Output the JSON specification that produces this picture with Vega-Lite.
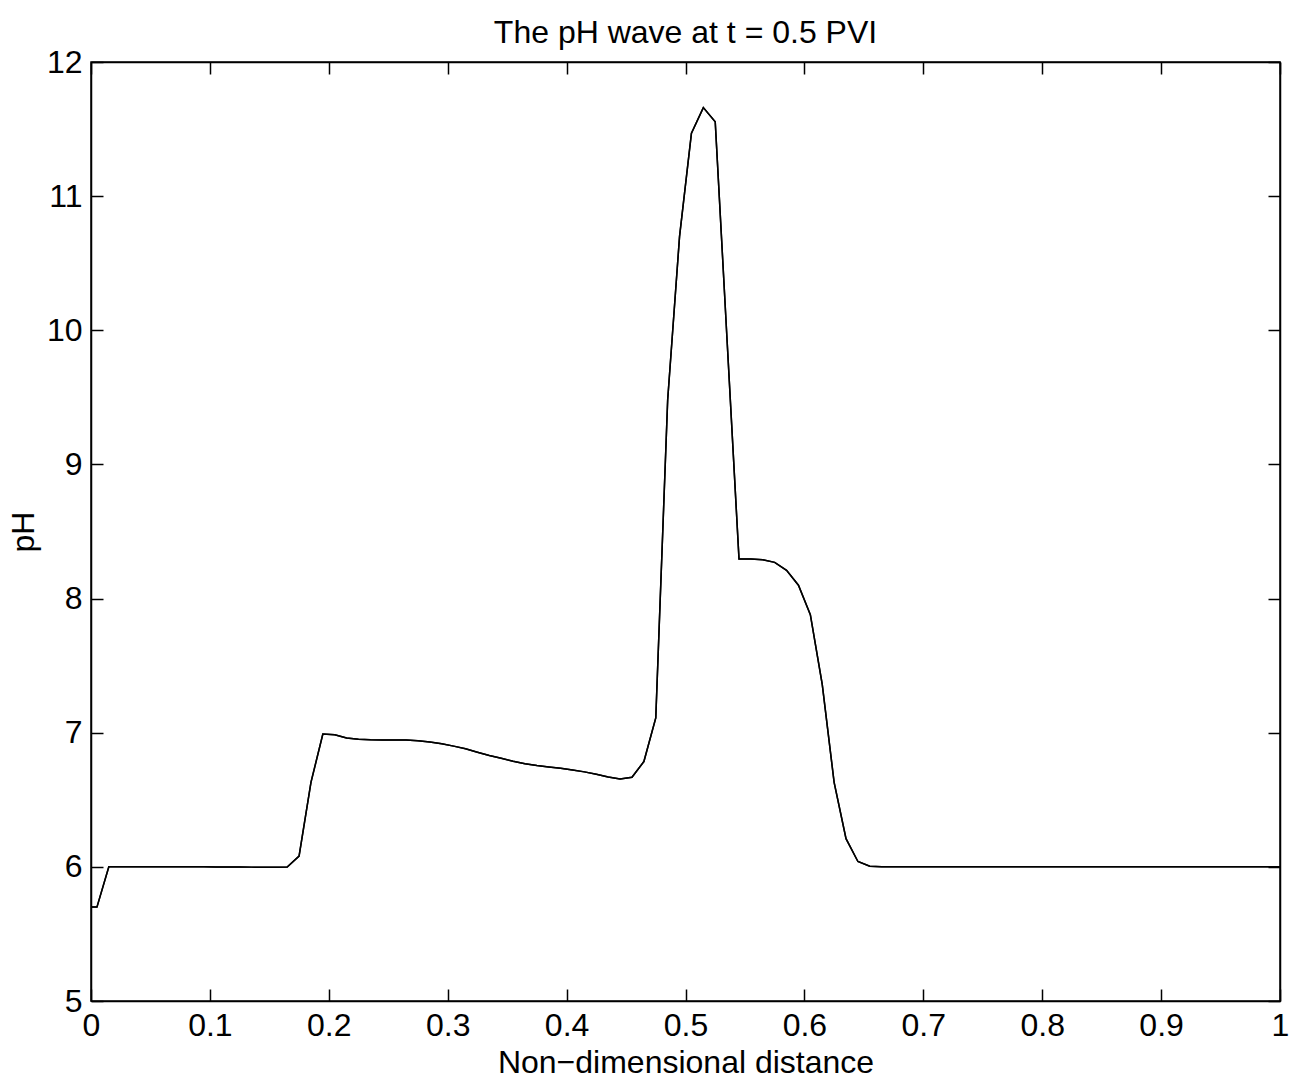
{
  "$schema": "https://vega.github.io/schema/vega-lite/v6.json",
  "width": 1189,
  "height": 939,
  "autosize": {"type": "none"},
  "padding": {"left": 91, "top": 62, "right": 13, "bottom": 85},
  "background": "white",
  "title": {"text": "The pH wave at t = 0.5 PVI", "font": "Liberation Sans", "fontSize": 32, "fontWeight": "normal", "color": "black", "offset": -4},
  "config": {
    "view": {"stroke": "black", "strokeWidth": 1.5},
    "axis": {"grid": false, "domainColor": "black", "domainWidth": 1.5, "tickColor": "black", "tickWidth": 1.5, "tickSize": -12, "labelFont": "Liberation Sans", "labelFontSize": 32, "labelColor": "black", "titleFont": "Liberation Sans", "titleFontSize": 32, "titleFontWeight": "normal", "titleColor": "black", "labelOverlap": false}
  },
  "data": {"values": [
    {"x": 0, "pH": 5.70}, {"x": 0.005, "pH": 5.70}, {"x": 0.015, "pH": 6.0}, {"x": 0.025, "pH": 6.0}, {"x": 0.035, "pH": 6.0}, {"x": 0.045, "pH": 6.0}, {"x": 0.055, "pH": 6.0}, {"x": 0.065, "pH": 6.0}, {"x": 0.075, "pH": 6.0}, {"x": 0.085, "pH": 6.0}, {"x": 0.095, "pH": 6.0}, {"x": 0.105, "pH": 5.999}, {"x": 0.115, "pH": 5.999}, {"x": 0.125, "pH": 5.999}, {"x": 0.135, "pH": 5.998}, {"x": 0.145, "pH": 5.997}, {"x": 0.155, "pH": 5.997}, {"x": 0.165, "pH": 5.999},
    {"x": 0.175, "pH": 6.08}, {"x": 0.185, "pH": 6.63}, {"x": 0.195, "pH": 6.99}, {"x": 0.205, "pH": 6.985}, {"x": 0.215, "pH": 6.96}, {"x": 0.225, "pH": 6.952}, {"x": 0.235, "pH": 6.948}, {"x": 0.245, "pH": 6.946}, {"x": 0.255, "pH": 6.946}, {"x": 0.265, "pH": 6.945}, {"x": 0.275, "pH": 6.94}, {"x": 0.285, "pH": 6.93}, {"x": 0.295, "pH": 6.918}, {"x": 0.305, "pH": 6.90}, {"x": 0.315, "pH": 6.88}, {"x": 0.325, "pH": 6.855}, {"x": 0.335, "pH": 6.83}, {"x": 0.345, "pH": 6.81}, {"x": 0.355, "pH": 6.787}, {"x": 0.365, "pH": 6.768}, {"x": 0.375, "pH": 6.755}, {"x": 0.385, "pH": 6.745}, {"x": 0.395, "pH": 6.735}, {"x": 0.405, "pH": 6.722}, {"x": 0.415, "pH": 6.708}, {"x": 0.425, "pH": 6.69}, {"x": 0.435, "pH": 6.67}, {"x": 0.445, "pH": 6.655}, {"x": 0.455, "pH": 6.668}, {"x": 0.465, "pH": 6.785}, {"x": 0.475, "pH": 7.11},
    {"x": 0.485, "pH": 9.48}, {"x": 0.495, "pH": 10.70}, {"x": 0.505, "pH": 11.47}, {"x": 0.515, "pH": 11.66}, {"x": 0.525, "pH": 11.555}, {"x": 0.535, "pH": 9.92}, {"x": 0.545, "pH": 8.295}, {"x": 0.555, "pH": 8.295}, {"x": 0.565, "pH": 8.29}, {"x": 0.575, "pH": 8.27}, {"x": 0.585, "pH": 8.21}, {"x": 0.595, "pH": 8.10}, {"x": 0.605, "pH": 7.88}, {"x": 0.615, "pH": 7.36}, {"x": 0.625, "pH": 6.63}, {"x": 0.635, "pH": 6.21}, {"x": 0.645, "pH": 6.04}, {"x": 0.655, "pH": 6.005},
    {"x": 0.665, "pH": 6.0}, {"x": 0.675, "pH": 6.0}, {"x": 0.685, "pH": 6.0}, {"x": 0.695, "pH": 6.0}, {"x": 0.705, "pH": 6.0}, {"x": 0.715, "pH": 6.0}, {"x": 0.725, "pH": 6.0}, {"x": 0.735, "pH": 6.0}, {"x": 0.745, "pH": 6.0}, {"x": 0.755, "pH": 6.0}, {"x": 0.765, "pH": 6.0}, {"x": 0.775, "pH": 6.0}, {"x": 0.785, "pH": 6.0}, {"x": 0.795, "pH": 6.0}, {"x": 0.805, "pH": 6.0}, {"x": 0.815, "pH": 6.0}, {"x": 0.825, "pH": 6.0}, {"x": 0.835, "pH": 6.0}, {"x": 0.845, "pH": 6.0}, {"x": 0.855, "pH": 6.0}, {"x": 0.865, "pH": 6.0}, {"x": 0.875, "pH": 6.0}, {"x": 0.885, "pH": 6.0}, {"x": 0.895, "pH": 6.0}, {"x": 0.905, "pH": 6.0}, {"x": 0.915, "pH": 6.0}, {"x": 0.925, "pH": 6.0}, {"x": 0.935, "pH": 6.0}, {"x": 0.945, "pH": 6.0}, {"x": 0.955, "pH": 6.0}, {"x": 0.965, "pH": 6.0}, {"x": 0.975, "pH": 6.0}, {"x": 0.985, "pH": 6.0}, {"x": 0.995, "pH": 6.0}, {"x": 1, "pH": 6.0}
  ]},
  "layer": [
    {
      "mark": {"type": "line", "color": "black", "strokeWidth": 1.5},
      "encoding": {
        "x": {"field": "x", "type": "quantitative", "scale": {"domain": [0, 1], "nice": false, "zero": false}, "axis": {"title": "Non−dimensional distance", "values": [0, 0.1, 0.2, 0.3, 0.4, 0.5, 0.6, 0.7, 0.8, 0.9, 1], "format": "~g", "labelPadding": 21, "titlePadding": 6, "labelFlush": false}},
        "y": {"field": "pH", "type": "quantitative", "scale": {"domain": [5, 12], "nice": false, "zero": false}, "axis": {"title": "pH", "values": [5, 6, 7, 8, 9, 10, 11, 12], "labelPadding": 21, "titlePadding": 6}}
      }
    },
    {
      "mark": {"type": "line", "color": "black", "strokeWidth": 1.5},
      "encoding": {
        "x": {"field": "x", "type": "quantitative", "scale": {"domain": [0, 1], "nice": false, "zero": false}, "axis": {"orient": "top", "title": null, "labels": false, "values": [0, 0.1, 0.2, 0.3, 0.4, 0.5, 0.6, 0.7, 0.8, 0.9, 1]}},
        "y": {"field": "pH", "type": "quantitative", "scale": {"domain": [5, 12], "nice": false, "zero": false}, "axis": {"orient": "right", "title": null, "labels": false, "values": [5, 6, 7, 8, 9, 10, 11, 12]}}
      }
    }
  ],
  "resolve": {"axis": {"x": "independent", "y": "independent"}}
}
